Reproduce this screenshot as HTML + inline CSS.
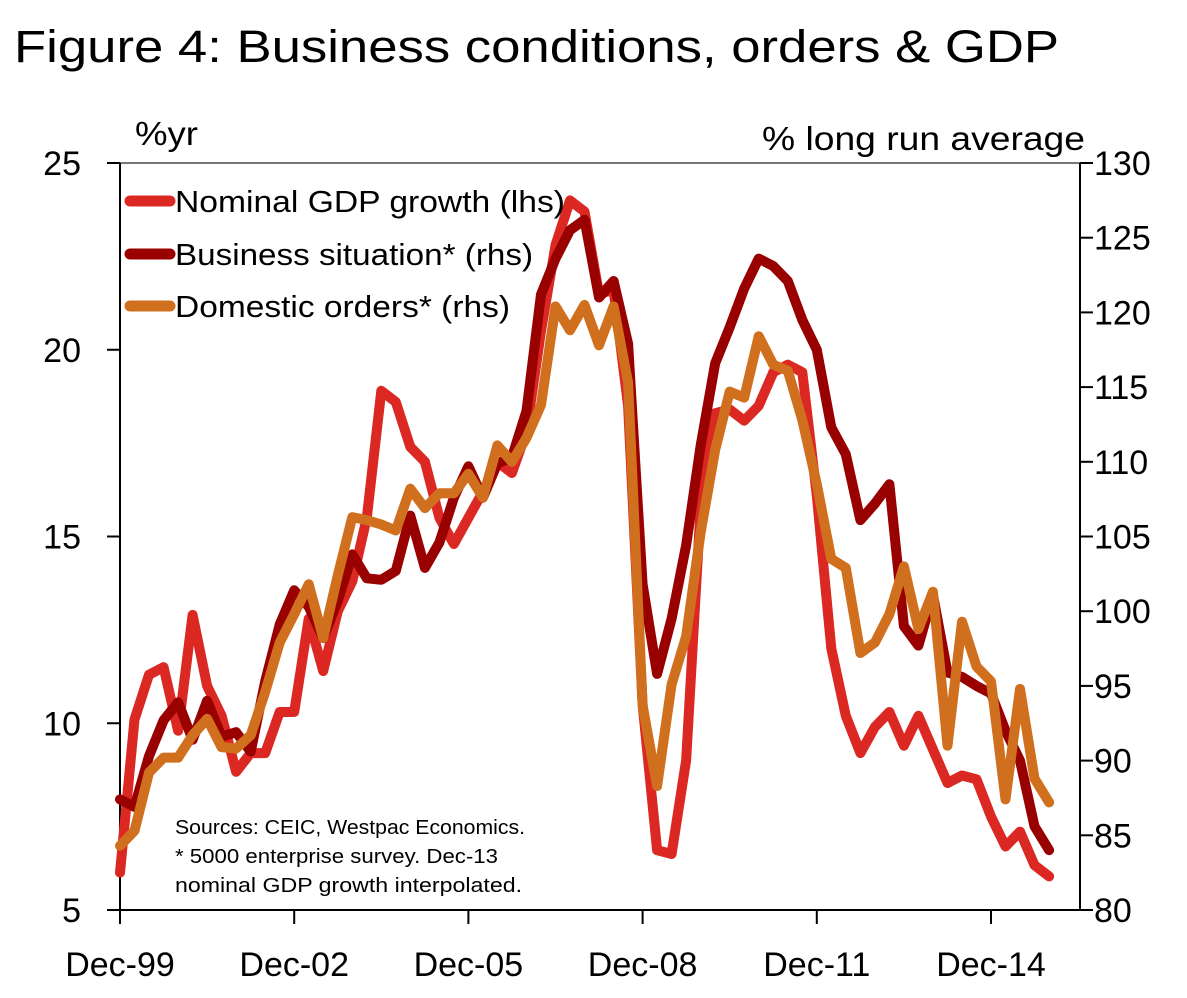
<!DOCTYPE html>
<html><head><meta charset="utf-8"><style>
body{margin:0;background:#fff;}
svg text{font-family:"Liberation Sans",sans-serif;fill:#000;}
</style></head><body>
<svg width="1187" height="993" viewBox="0 0 1187 993">
<text x="14" y="62" font-size="45" textLength="1045" lengthAdjust="spacingAndGlyphs">Figure 4: Business conditions, orders &amp; GDP</text>
<text x="135" y="145" font-size="33" textLength="63" lengthAdjust="spacingAndGlyphs">%yr</text>
<text x="762" y="150" font-size="33" textLength="323" lengthAdjust="spacingAndGlyphs">% long run average</text>
<g id="axes"></g>
<g id="series"></g>
<g>
<line x1="130" y1="201" x2="170" y2="201" stroke="#dc2822" stroke-width="11" stroke-linecap="round"/>
<text x="175" y="212" font-size="31" textLength="390" lengthAdjust="spacingAndGlyphs">Nominal GDP growth (lhs)</text>
<line x1="130" y1="254" x2="170" y2="254" stroke="#990000" stroke-width="11" stroke-linecap="round"/>
<text x="175" y="265" font-size="31" textLength="358" lengthAdjust="spacingAndGlyphs">Business situation* (rhs)</text>
<line x1="130" y1="306" x2="170" y2="306" stroke="#d0701e" stroke-width="11" stroke-linecap="round"/>
<text x="175" y="317" font-size="31" textLength="335" lengthAdjust="spacingAndGlyphs">Domestic orders* (rhs)</text>
</g>
<g font-size="20">
<text x="175" y="834" textLength="350" lengthAdjust="spacingAndGlyphs">Sources: CEIC, Westpac Economics.</text>
<text x="175" y="863" textLength="323" lengthAdjust="spacingAndGlyphs">* 5000 enterprise survey. Dec-13</text>
<text x="175" y="892" textLength="347" lengthAdjust="spacingAndGlyphs">nominal GDP growth interpolated.</text>
</g>
</svg>
<script>
const xLabels=["Dec-99","Dec-02","Dec-05","Dec-08","Dec-11","Dec-14"];
const leftTicks=[5,10,15,20,25];
const rightTicks=[80,85,90,95,100,105,110,115,120,125,130];
const gdp=[6.0,10.1,11.3,11.5,9.8,12.9,11.0,10.2,8.7,9.2,9.2,10.3,10.3,12.8,11.4,13.0,13.8,15.5,18.9,18.6,17.4,17.0,15.5,14.8,15.5,16.2,17.0,16.7,17.8,20.5,22.8,24.0,23.7,21.5,21.6,18.5,10.5,6.6,6.5,9.0,15.8,18.3,18.4,18.1,18.5,19.4,19.6,19.4,16.1,12.0,10.2,9.2,9.9,10.3,9.4,10.2,9.3,8.4,8.6,8.5,7.5,6.7,7.1,6.2,5.9];
const business=[87.4,86.9,90.3,92.7,93.9,91.4,94.0,91.6,91.9,90.6,95.3,99.1,101.4,100.3,98.2,100.7,103.8,102.2,102.1,102.7,106.4,102.9,104.6,107.6,109.7,107.6,109.9,110.3,113.4,121.2,123.6,125.5,126.2,121.0,122.1,117.9,101.8,95.8,99.5,104.4,111.1,116.6,119.0,121.6,123.6,123.1,122.1,119.5,117.5,112.3,110.5,106.1,107.2,108.5,99.0,97.7,101.1,95.9,95.6,95.0,94.5,92.0,90.0,85.6,84.0];
const orders=[84.3,85.3,89.2,90.2,90.2,91.7,92.8,90.9,90.8,91.7,94.6,97.9,99.8,101.8,98.2,102.4,106.3,106.1,105.8,105.4,108.2,106.9,107.9,107.9,109.2,107.6,111.1,110.0,111.6,113.8,120.4,118.8,120.5,117.8,120.4,115.3,93.7,88.3,95.1,98.3,105.3,110.8,114.7,114.3,118.4,116.5,116.1,112.8,108.5,103.5,102.9,97.2,97.9,99.8,103.0,98.8,101.3,91.0,99.3,96.3,95.3,87.4,94.8,88.8,87.2];
const X0=120,X1=1080,Y0=910,Y1=163;
const xq=i=>120+i*(991-120)/60;
const yl=v=>Y0-(v-5)*(Y0-Y1)/20;
const yr=v=>Y0-(v-80)*(Y0-Y1)/50;
const NS="http://www.w3.org/2000/svg";
function mk(tag,attrs,parent){const e=document.createElementNS(NS,tag);for(const k in attrs)e.setAttribute(k,attrs[k]);parent.appendChild(e);return e;}
const ax=document.getElementById('axes');
let e;
e=mk('line',{x1:107,y1:Y1,x2:X1+13,y2:Y1,stroke:'#777','stroke-width':2},ax);


e=mk('line',{x1:X0,y1:Y1,x2:X0,y2:Y0,stroke:'#000','stroke-width':2},ax);


e=mk('line',{x1:X1,y1:Y1,x2:X1,y2:Y0,stroke:'#000','stroke-width':2},ax);


e=mk('line',{x1:107,y1:Y0,x2:X1+13,y2:Y0,stroke:'#000','stroke-width':2},ax);


leftTicks.forEach(v=>{const y=yl(v);
 e=mk('line',{x1:107,y1:y,x2:X0,y2:y,stroke:'#000','stroke-width':2},ax);
 
 
 e=mk('text',{x:81,y:y+12,'font-size':34,'text-anchor':'end'},ax);e.textContent=v;
 
 
});
rightTicks.forEach(v=>{const y=yr(v);
 e=mk('line',{x1:X1,y1:y,x2:X1+13,y2:y,stroke:'#000','stroke-width':2},ax);
 
 
 e=mk('text',{x:1094,y:y+12,'font-size':34},ax);e.textContent=v;
 
 
});
xLabels.forEach((l,k)=>{const x=xq(k*12);
 e=mk('line',{x1:x,y1:Y0,x2:x,y2:Y0+14,stroke:'#000','stroke-width':2},ax);
 
 
 e=mk('text',{x:x,y:976,'font-size':34,'text-anchor':'middle'},ax);e.textContent=l;
 
 
});
const sg=document.getElementById('series');
function line(arr,fy,color,name){
 const d=arr.map((v,i)=>(i?'L':'M')+xq(i).toFixed(1)+' '+fy(v).toFixed(1)).join(' ');
 const p=mk('path',{d:d,fill:'none',stroke:color,'stroke-width':10,'stroke-linejoin':'round','stroke-linecap':'round'},sg);
 
 
}
line(gdp,yl,'#dc2822','gdp-growth-line');
line(business,yr,'#990000','business-situation-line');
line(orders,yr,'#d0701e','domestic-orders-line');
</script>
</body></html>
